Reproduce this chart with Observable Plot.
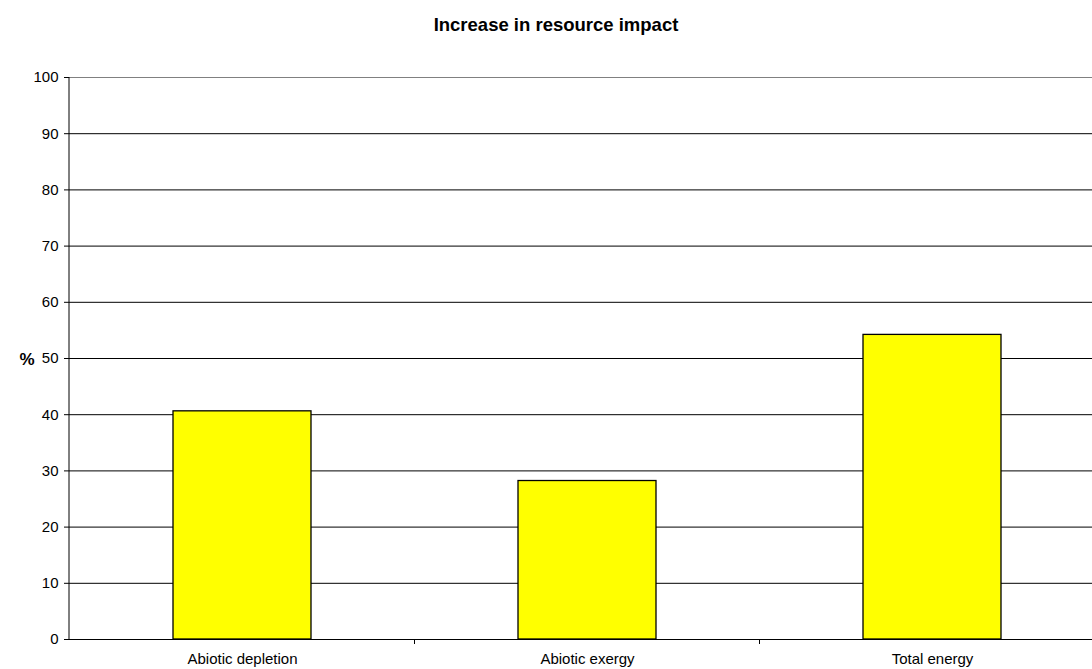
<!DOCTYPE html>
<html>
<head>
<meta charset="utf-8">
<script src="https://cdn.jsdelivr.net/npm/d3@7"></script>
<script src="https://cdn.jsdelivr.net/npm/@observablehq/plot@0.6"></script>
<style>
  html, body { margin: 0; padding: 0; background: #fff; overflow: hidden; width: 1092px; height: 669px; }
  #wrap { position: relative; width: 1092px; height: 669px; overflow: hidden; font-family: "Liberation Sans", Arial, sans-serif; }
  #title { position: absolute; left: 0; top: 14px; width: 1112px; text-align: center; font-weight: bold; font-size: 18.5px; color: #000; }
  #chart { position: absolute; left: 0; top: 0; width: 1104px; height: 669px; }
  #chart svg { max-width: none !important; }
</style>
</head>
<body>
<div id="wrap">
  <div id="chart"></div>
  <div id="title">Increase in resource impact</div>
</div>
<script>
const categories = ["Abiotic depletion", "Abiotic exergy", "Total energy"];
const values = [40.6, 28.2, 54.2];
const yTicks = [0, 10, 20, 30, 40, 50, 60, 70, 80, 90, 100];
const gridValues = [10, 20, 30, 40, 50, 60, 70, 80, 90];
const yLabel = "%";

const data = categories.map((c, i) => ({category: c, value: values[i]}));

const chart = Plot.plot({
  width: 1104,
  height: 669,
  marginTop: 77,
  marginBottom: 30,
  marginLeft: 69,
  marginRight: 0,
  style: {fontFamily: "'Liberation Sans', Arial, sans-serif", fontSize: "15px", color: "#000", background: "transparent", overflow: "visible", maxWidth: "none"},
  x: {domain: categories, paddingInner: 0.6, paddingOuter: 0.3, axis: null},
  y: {domain: [0, 100], axis: null},
  marks: [
    Plot.ruleY(gridValues, {stroke: "#000", strokeWidth: 1}),
    Plot.ruleY([100], {stroke: "#808080", strokeWidth: 1}),
    Plot.barY(data, {x: "category", y: "value", fill: "#FFFF00", stroke: "#000", strokeWidth: 1.3}),
    Plot.ruleY([0], {stroke: "#000", strokeWidth: 1}),
    Plot.axisY({ticks: yTicks, tickSize: 5, tickPadding: 6, tickFormat: d => String(d), label: null, fontSize: 15, stroke: "#000"}),
    Plot.axisX({tickSize: 0, tickPadding: 14, label: null, fontSize: 15}),
    Plot.text([yLabel], {frameAnchor: "left", dx: -50, dy: 1, text: d => d, fontWeight: "bold", fontSize: 17, fill: "#000"})
  ]
});

// vertical axis line and category separator ticks, from the x scale
const xs = chart.scale("x");
const ys = chart.scale("y");
const svg = d3.select(chart);
const x0 = xs.range[0];
svg.append("line")
  .attr("x1", x0).attr("x2", x0)
  .attr("y1", ys.apply(100)).attr("y2", ys.apply(0))
  .attr("stroke", "#000").attr("stroke-width", 1);
const step = xs.step;
for (let i = 1; i < categories.length; i++) {
  const bx = xs.apply(categories[i]) - step * xs.paddingInner / 2;
  svg.append("line")
    .attr("x1", bx).attr("x2", bx)
    .attr("y1", ys.apply(0)).attr("y2", ys.apply(0) + 5)
    .attr("stroke", "#000").attr("stroke-width", 1);
}

document.getElementById("chart").appendChild(chart);
</script>
</body>
</html>
